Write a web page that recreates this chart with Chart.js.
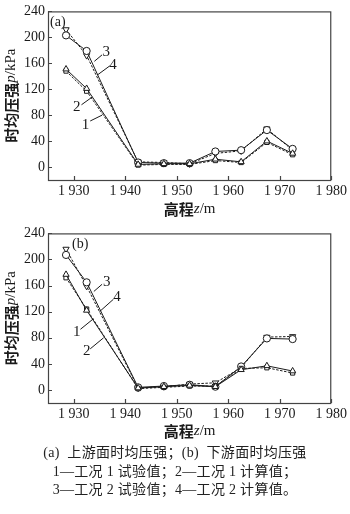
<!DOCTYPE html>
<html>
<head>
<meta charset="utf-8">
<script src="https://cdn.jsdelivr.net/npm/chart.js@4.4.1/dist/chart.umd.min.js"></script>
<style>
  body { margin: 0; background: #fff; width: 350px; height: 514px; overflow: hidden; }
  canvas { position: absolute; left: 0; }
  #chart-a { top: 0; }
  #chart-b { top: 222px; }
  .cap {
    position: absolute; left: 0; width: 350px; text-align: center; white-space: pre;
    font: 14px "Liberation Serif", "Noto Sans CJK SC", serif; color: #222; line-height: 18px;
    letter-spacing: 0.3px;
  }
</style>
</head>
<body>
<canvas id="chart-a" width="350" height="222"></canvas>
<canvas id="chart-b" width="350" height="224"></canvas>
<div class="cap" style="top:444px">(a)  上游面时均压强；(b)  下游面时均压强</div>
<div class="cap" style="top:463px">1—工况 1 试验值；2—工况 1 计算值；</div>
<div class="cap" style="top:481px">3—工况 2 试验值；4—工况 2 计算值。</div>
<script>
// elevations of the measuring points, m
const ELEV = [1928.5, 1932.5, 1942.5, 1947.5, 1952.5, 1957.5, 1962.5, 1967.5, 1972.5]
const X_TICKS = [1930, 1940, 1950, 1960, 1970, 1980]
const Y_TICKS = [0, 40, 80, 120, 160, 200, 240]

// (a) upstream face, kPa
const UP_CASE1_TEST = [151, 121, 4, 5, 5, 12, 8, 40, 21]
const UP_CASE1_CALC = [148, 117, 3, 4, 4, 10, 7, 38, 19]
const UP_CASE2_TEST = [203, 179, 7, 6, 6, 24, 26, 57, 28]
const UP_CASE2_CALC = [212, 172, 8, 7, 5, 21, 25, 59, 26]

// (b) downstream face, kPa
const DOWN_CASE1_TEST = [177, 122, 3, 5, 7, 5, 31, 37, 29]
const DOWN_CASE1_CALC = [172, 124, 2, 4, 6, 6, 33, 34, 26]
const DOWN_CASE2_TEST = [207, 165, 4, 6, 8, 5, 36, 79, 78]
const DOWN_CASE2_CALC = [216, 159, 3, 5, 9, 11, 34, 81, 82]

// curve numbers with leader lines, in data units
const CALLOUTS_A = [
  { text: '3', at: [1936.3, 178], from: [1934.0, 163], to: [1935.5, 173] },
  { text: '4', at: [1937.6, 158], from: [1934.6, 142], to: [1937.0, 156] },
  { text: '2', at: [1930.6, 92],  from: [1933.6, 108], to: [1931.5, 96] },
  { text: '1', at: [1932.3, 65],  from: [1935.5, 80],  to: [1933.2, 71] },
]
const CALLOUTS_B = [
  { text: '3', at: [1936.4, 165], from: [1933.9, 151], to: [1935.5, 162] },
  { text: '4', at: [1938.4, 143], from: [1935.0, 120], to: [1937.7, 139] },
  { text: '1', at: [1930.6, 88],  from: [1933.8, 109], to: [1931.3, 93] },
  { text: '2', at: [1932.5, 59],  from: [1935.8, 80],  to: [1933.2, 63] },
]

const SERIF = '"Liberation Serif", "Times New Roman", serif'
const CJK = '"Noto Sans CJK SC", sans-serif'
const INK = '#1a1a1a'

function series(label, data, style, dashed) {
  return {
    label,
    data: data.map((y, i) => ({ x: ELEV[i], y })),
    borderColor: INK,
    borderWidth: 1,
    borderDash: dashed ? [2.5, 1.5] : [],
    pointStyle: style === 'down' ? 'triangle' : style,
    rotation: style === 'down' ? 180 : 0,
    pointRadius: style === 'rect' ? 3 : 3.6,
    pointBorderWidth: 1,
    pointBorderColor: INK,
    pointBackgroundColor: '#fff',
    tension: 0,
  }
}

function drawRuns(ctx, runs, cx, cy) {
  let w = 0
  for (const r of runs) { ctx.font = r.f; w += ctx.measureText(r.t).width }
  let x = cx - w / 2
  ctx.textAlign = 'left'
  ctx.textBaseline = 'middle'
  for (const r of runs) {
    ctx.font = r.f
    ctx.fillText(r.t, x, cy)
    x += ctx.measureText(r.t).width
  }
}

const frame = {
  id: 'frame',
  afterDraw(chart, args, opts) {
    const { ctx, chartArea: a, scales: { x, y } } = chart
    ctx.save()
    ctx.strokeStyle = '#444'
    ctx.lineWidth = 1.2
    ctx.strokeRect(a.left + 0.5, a.top + 0.5, a.right - a.left - 1, a.bottom - a.top)

    ctx.beginPath()
    for (const v of X_TICKS) {
      const px = Math.round(x.getPixelForValue(v)) + 0.5
      ctx.moveTo(px, a.bottom); ctx.lineTo(px, a.bottom - 4)
    }
    for (const v of Y_TICKS) {
      const py = Math.round(y.getPixelForValue(v)) + 0.5
      ctx.moveTo(a.left, py); ctx.lineTo(a.left + 4, py)
    }
    ctx.stroke()

    ctx.fillStyle = INK
    ctx.strokeStyle = INK
    ctx.lineWidth = 1
    ctx.font = '15px ' + SERIF
    ctx.textAlign = 'center'
    ctx.textBaseline = 'middle'
    for (const c of opts.callouts) {
      ctx.fillText(c.text, x.getPixelForValue(c.at[0]), y.getPixelForValue(c.at[1]))
      ctx.beginPath()
      ctx.moveTo(x.getPixelForValue(c.from[0]), y.getPixelForValue(c.from[1]))
      ctx.lineTo(x.getPixelForValue(c.to[0]), y.getPixelForValue(c.to[1]))
      ctx.stroke()
    }

    ctx.font = '14px ' + SERIF
    ctx.textAlign = 'left'
    ctx.fillText(opts.tag, opts.tagX, a.top + 11)

    drawRuns(ctx, [
      { t: '高程', f: 'bold 15px ' + CJK },
      { t: 'z', f: 'italic 15px ' + SERIF },
      { t: '/m', f: '15px ' + SERIF },
    ], (a.left + a.right) / 2, 209)

    ctx.translate(11, (a.top + a.bottom) / 2)
    ctx.rotate(-Math.PI / 2)
    drawRuns(ctx, [
      { t: '时均压强', f: 'bold 15px ' + CJK },
      { t: 'p', f: 'italic 15px ' + SERIF },
      { t: '/kPa', f: '15px ' + SERIF },
    ], 0, 0)
    ctx.restore()
  },
}

function makeChart(id, datasets, tag, tagX, callouts, xHeight) {
  return new Chart(document.getElementById(id), {
    type: 'line',
    data: { datasets },
    plugins: [frame],
    options: {
      responsive: false,
      animation: false,
      layout: { padding: { top: 5, right: 15, left: 0, bottom: 0 } },
      plugins: {
        legend: { display: false },
        tooltip: { enabled: false },
        frame: { tag, tagX, callouts },
      },
      scales: {
        x: {
          type: 'linear', min: 1925, max: 1980,
          afterBuildTicks: s => { s.ticks = X_TICKS.map(value => ({ value })) },
          afterFit: s => { s.height = xHeight },
          grid: { display: false, drawTicks: false },
          border: { display: false },
          ticks: {
            color: INK, padding: 3, maxRotation: 0, autoSkip: false,
            font: { family: SERIF, size: 14 },
            callback: v => String(v).replace(/^(\d)/, '$1 '),
          },
        },
        y: {
          min: -20, max: 240,
          afterBuildTicks: s => { s.ticks = Y_TICKS.map(value => ({ value })) },
          afterFit: s => { s.width = 48 },
          grid: { display: false, drawTicks: false },
          border: { display: false },
          ticks: { color: INK, padding: 3, font: { family: SERIF, size: 14 } },
        },
      },
    },
  })
}

makeChart('chart-a', [
  series('1', UP_CASE1_TEST, 'triangle', false),
  series('2', UP_CASE1_CALC, 'rect', true),
  series('3', UP_CASE2_TEST, 'circle', false),
  series('4', UP_CASE2_CALC, 'down', true),
], '(a)', 50, CALLOUTS_A, 42)

makeChart('chart-b', [
  series('1', DOWN_CASE1_TEST, 'triangle', false),
  series('2', DOWN_CASE1_CALC, 'rect', true),
  series('3', DOWN_CASE2_TEST, 'circle', false),
  series('4', DOWN_CASE2_CALC, 'down', true),
], '(b)', 72, CALLOUTS_B, 43)
</script>
</body>
</html>
